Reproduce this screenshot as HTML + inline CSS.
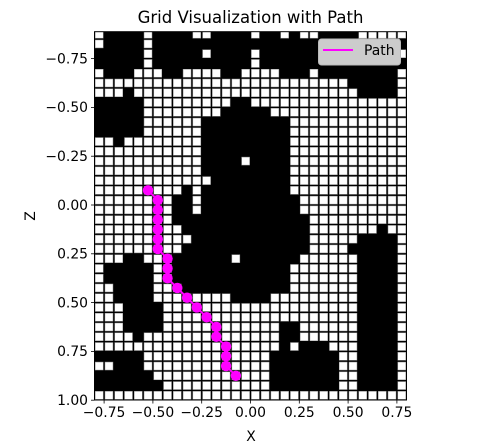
<!DOCTYPE html>
<html><head><meta charset="utf-8"><style>
html,body{margin:0;padding:0;background:#fff;}
svg{display:block;font-family:"DejaVu Sans","Liberation Sans",sans-serif;}
</style></head><body>
<svg id="chart" width="494" height="446" viewBox="0 0 494 446">
<text x="250.5" y="23" text-anchor="middle" font-size="16.5" fill="#000">Grid Visualization with Path</text>
<defs><clipPath id="pc"><rect x="94.5" y="31.7" width="312" height="368.3"/></clipPath></defs>
<g id="plot" clip-path="url(#pc)"></g>
<g id="pathg" clip-path="url(#pc)"></g>
<rect x="94.5" y="31.7" width="312" height="368.3" fill="none" stroke="#000" stroke-width="1"/>
<g id="axes"></g>
<text x="251" y="441" text-anchor="middle" font-size="13.9">X</text>
<text x="0" y="0" text-anchor="middle" font-size="13.9" transform="translate(35,216) rotate(-90)">Z</text>
<g>
<rect x="318.5" y="39" width="82" height="26" rx="3" fill="#cccccc" stroke="#bbb" stroke-width="1"/>
<line x1="323" y1="50" x2="353" y2="50" stroke="#ff00ff" stroke-width="2"/>
<text x="364" y="55" font-size="13.9" fill="#000">Path</text>
</g>
</svg>
<script>
const gridRows = [
"01111011110011110110100111100000",
"01111011111111111111111111111111",
"11111011111011110111111111111110",
"11111011111111110111111111111111",
"01110001100001100001110111111110",
"00000000000000000000000000111110",
"00010000000000000000000000011110",
"11111000000000110000000000000000",
"11111000000001111100000000000000",
"11111000000111111111000000000000",
"11111000000111111111000000000000",
"00100000000111111111000000000000",
"00000000000111111111000000000000",
"00000000000111101111000000000000",
"00000000000111111111000000000000",
"00000000000011111111000000000000",
"00000000010111111111000000000000",
"00000000110111111111100000000000",
"00000000110111111111100000000000",
"00000000111111111111110000000000",
"00000000011111111111110000000100",
"00000000001111111111110000011110",
"00000000011111111111110000111110",
"00011000111111011111100000011110",
"01111100111111111111000000011110",
"01111100111111111111000000011110",
"00111100011111111111000000011110",
"00111100000000111100000000011110",
"00011110000000000000000000011110",
"00011110000000000000000000011110",
"00011110000000000001100000011110",
"00001000000000000001100000011110",
"00000000000000000001011100011110",
"11111000000000000011111110011110",
"00111000000000000011111110011110",
"11111100000000000011111110011110",
"11111110000000000011111110011110",
"00000000000000000000000000000000"
];
const pathX = [-0.525,-0.475,-0.475,-0.475,-0.475,-0.475,-0.475,-0.425,-0.425,-0.425,-0.375,-0.325,-0.275,-0.225,-0.175,-0.175,-0.125,-0.125,-0.125,-0.075];
const pathZ = [-0.075,-0.025,0.025,0.075,0.125,0.175,0.225,0.275,0.325,0.375,0.425,0.475,0.525,0.575,0.625,0.675,0.725,0.775,0.825,0.875];
const xTicks = [-0.75,-0.5,-0.25,0,0.25,0.5,0.75];
const xTickLabels = ["−0.75","−0.50","−0.25","0.00","0.25","0.50","0.75"];
const zTicks = [-0.75,-0.5,-0.25,0,0.25,0.5,0.75,1.0];
const zTickLabels = ["−0.75","−0.50","−0.25","0.00","0.25","0.50","0.75","1.00"];
const cell = 0.05, xMin = -0.8, zMin = -0.9;

const NS = "http://www.w3.org/2000/svg";
const S = 195.2;
function sx(v){ return 250.5 + v*S; }
function sz(v){ return 205 + v*S; }
function mk(tag, attrs, parent){
  const e = document.createElementNS(NS, tag);
  for (const k in attrs) e.setAttribute(k, attrs[k]);
  parent.appendChild(e);
  return e;
}
const plot = document.getElementById("plot");
const bg = mk("rect", {x:94.5, y:29, width:312, height:372, fill:"#000"}, plot);


gridRows.forEach((row, r) => {
  for (let c = 0; c < row.length; c++) {
    if (row[c] === "1") continue;
    const x0 = sx(xMin + c*cell), x1 = sx(xMin + (c+1)*cell);
    const y0 = sz(zMin + r*cell), y1 = sz(zMin + (r+1)*cell);
    const el = mk("rect", {x:x0+0.9, y:y0+0.9, width:x1-x0-1.8, height:y1-y0-1.8, fill:"#fff", stroke:"#999", "stroke-width":0.5}, plot);
    
    
  }
});
const pg = document.getElementById("pathg");
const pts = pathX.map((v,i) => sx(v).toFixed(1) + "," + sz(pathZ[i]).toFixed(1)).join(" ");
const pl = mk("polyline", {points:pts, fill:"none", stroke:"#ff00ff", "stroke-width":2}, pg);


pathX.forEach((v,i) => {
  const c = mk("circle", {cx:sx(v), cy:sz(pathZ[i]), r:5.2, fill:"#ff00ff"}, pg);
  
  
});
const axes = document.getElementById("axes");
xTicks.forEach((v,i) => {
  const x = sx(v);
  const t = mk("line", {x1:x, y1:400, x2:x, y2:403.5, stroke:"#000", "stroke-width":0.8}, axes);
  
  
  const l = mk("text", {x:x, y:417, "text-anchor":"middle", "font-size":"13.9"}, axes);
  l.textContent = xTickLabels[i];
  
  
});
zTicks.forEach((v,i) => {
  const y = sz(v);
  const t = mk("line", {x1:91, y1:y, x2:94.5, y2:y, stroke:"#000", "stroke-width":0.8}, axes);
  
  
  const l = mk("text", {x:88, y:y+4.8, "text-anchor":"end", "font-size":"13.9"}, axes);
  l.textContent = zTickLabels[i];
  
  
});
</script>
</body></html>
